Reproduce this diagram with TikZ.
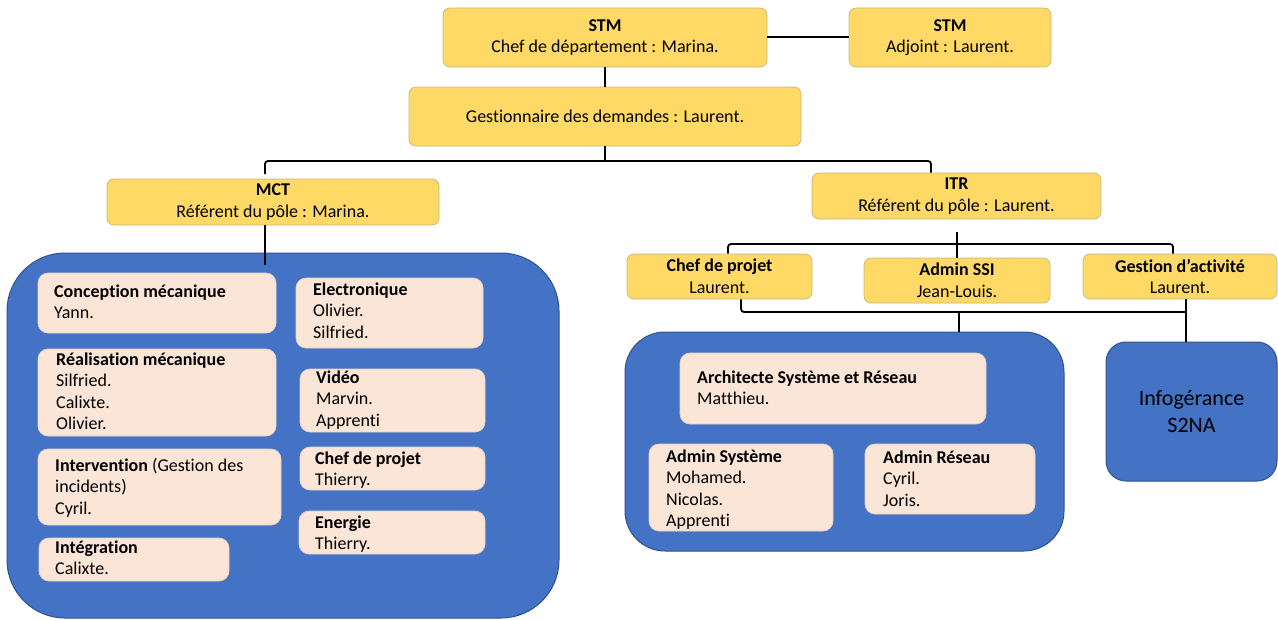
\documentclass[tikz,border=0pt]{standalone}
\usepackage{fontspec}
\setmainfont{Carlito}[Ligatures=NoCommon]
\definecolor{yfill}{HTML}{FFD966}
\definecolor{ybord}{HTML}{C8B57A}
\definecolor{pfill}{HTML}{FBE5D6}
\definecolor{pbord}{HTML}{E6D2C4}
\definecolor{bfill}{HTML}{4472C4}
\definecolor{bbord}{HTML}{2F528F}
\newcommand\fz{\fontsize{18}{21.6}\selectfont}
\newcommand\tl[1]{\begin{tabular}[t]{@{}l@{}}#1\end{tabular}}
\newcommand\bx[7]{\node[#1, minimum width={#5-#3}, minimum height={#6-#4}] (#2) at ({(#3+#5)/2},{(#4+#6)/2}) {#7};}
\tikzset{
  ybox/.style={draw=ybord, fill=yfill, rounded corners=7pt, line width=0.7pt, inner sep=0pt, align=center, font=\fz},
  pbox/.style={draw=pbord, fill=pfill, rounded corners=10pt, line width=0.7pt, inner sep=0pt},
  bboxl/.style={draw=bbord, fill=bfill, line width=1pt, inner sep=0pt, rounded corners=58pt},
  bboxr/.style={draw=bbord, fill=bfill, line width=1pt, inner sep=0pt, rounded corners=40pt},
  bboxs/.style={draw=bbord, fill=bfill, line width=1pt, inner sep=0pt, rounded corners=20pt, align=center, font=\fontsize{22}{27}\selectfont},
  txt/.style={anchor=base west, inner sep=0pt, font=\fz},
  conn/.style={draw=black, line width=1.8pt, rounded corners=3pt},
}
\begin{document}
\begin{tikzpicture}[x=1pt,y=-1pt]
\useasboundingbox (0,0) rectangle (1278,619);
\coordinate (busL) at (265,161);
\coordinate (busR) at (931,161);
\coordinate (busM) at (605,161);
\coordinate (mctT) at (265,174);
\coordinate (itrT) at (957,232);
\coordinate (itrL) at (728,244);
\coordinate (itrM) at (957,244);
\coordinate (itrR) at (1173,244);
\coordinate (lowL) at (741,312);
\coordinate (lowM) at (959,312);
\coordinate (lowR) at (1186,312);
% top boxes
\bx{ybox}{stm}{443}{8}{767}{67}{\textbf{STM}\\Chef de département : Marina.}
\bx{ybox}{adj}{849}{8}{1051}{67}{\textbf{STM}\\Adjoint : Laurent.}
\bx{ybox}{gest}{409}{87}{801}{146}{Gestionnaire des demandes : Laurent.}
\bx{ybox}{mct}{107}{179}{439}{225}{\textbf{MCT}\\Référent du pôle : Marina.}
\bx{ybox}{itr}{812}{173}{1101}{219}{\textbf{ITR}\\Référent du pôle : Laurent.}
\bx{ybox}{cdp}{627}{254}{812}{299}{\textbf{Chef de projet}\\Laurent.}
\bx{ybox}{ssi}{864}{258}{1050}{303}{\textbf{Admin SSI}\\Jean-Louis.}
\bx{ybox}{gact}{1083}{254}{1277}{299}{\textbf{Gestion d’activité}\\Laurent.}
% connectors
\draw[conn] (stm.east |- 0,37) -- (adj.west |- 0,37);
\draw[conn] (stm.south -| busM) -- (gest.north -| busM);
\draw[conn] (gest.south -| busM) -- (busM);
\draw[conn] (mctT) -- (busL) -- (busR) -- (itr.north -| busR);
\draw[conn] (itrT) -- (itrM);
\draw[conn] (cdp.north -| itrL) -- (itrL) -- (itrR) -- (gact.north -| itrR);
\draw[conn] (itrM) -- (ssi.north -| itrM);
\draw[conn] (cdp.south -| lowL) -- (lowL) -- (lowR);
% blue containers
\bx{bboxl}{mctbox}{7}{253}{559}{618}{}
\bx{bboxr}{itrbox}{625}{332}{1064}{551}{}
\bx{bboxs}{info}{1106}{342}{1277}{481}{Infogérance\\S2NA}
\draw[conn] (mct.south -| busL) -- (265,265) coordinate (mctend);
\draw[conn] (lowM) -- (itrbox.north -| lowM);
\draw[conn] (gact.south -| lowR) -- (info.north -| lowR);
% left pink boxes
\bx{pbox}{conc}{38}{273}{276}{333}{}
\bx{pbox}{real}{38}{349}{276}{436}{}
\bx{pbox}{interv}{38}{449}{281}{525}{}
\bx{pbox}{integ}{39}{538}{229}{581}{}
\bx{pbox}{elec}{296}{278}{483}{348}{}
\bx{pbox}{video}{300}{369}{485}{432}{}
\bx{pbox}{cdpm}{300}{447}{485}{490}{}
\bx{pbox}{ener}{299}{511}{485}{554}{}
\node[txt] (tconc) at (54,297) {\tl{\textbf{Conception mécanique}\\Yann.}};
\node[txt] (treal) at (56,365) {\tl{\textbf{Réalisation mécanique}\\Silfried.\\Calixte.\\Olivier.}};
\node[txt] (tinterv) at (55,471) {\tl{\textbf{Intervention} (Gestion des\\incidents)\\Cyril.}};
\node[txt] (tinteg) at (55,553) {\tl{\textbf{Intégration}\\Calixte.}};
\node[txt] (telec) at (313,295) {\tl{\textbf{Electronique}\\Olivier.\\Silfried.}};
\node[txt] (tvideo) at (316,383) {\tl{\textbf{Vidéo}\\Marvin.\\Apprenti}};
\node[txt] (tcdpm) at (315,464) {\tl{\textbf{Chef de projet}\\Thierry.}};
\node[txt] (tener) at (315,528) {\tl{\textbf{Energie}\\Thierry.}};
% right pink boxes
\bx{pbox}{arch}{680}{353}{986}{424}{}
\bx{pbox}{asys}{649}{444}{833}{531}{}
\bx{pbox}{ares}{865}{444}{1035}{514}{}
\node[txt] (tarch) at (697,383) {\tl{\textbf{Architecte Système et Réseau}\\Matthieu.}};
\node[txt] (tasys) at (666,462) {\tl{\textbf{Admin Système}\\Mohamed.\\Nicolas.\\Apprenti}};
\node[txt] (tares) at (883,463) {\tl{\textbf{Admin Réseau}\\Cyril.\\Joris.}};
\end{tikzpicture}
\end{document}
